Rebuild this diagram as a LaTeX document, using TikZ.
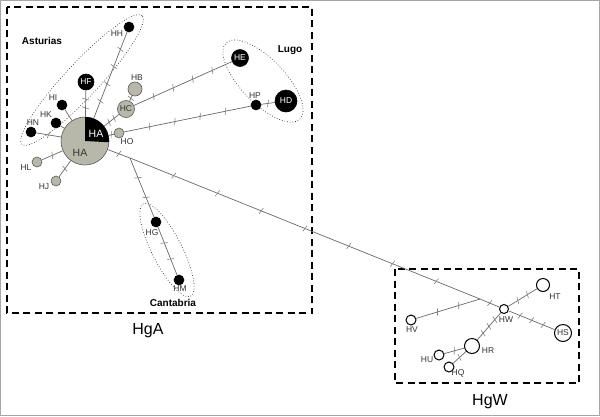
\documentclass[tikz,border=0pt]{standalone}
\usepackage{fontspec}
\setmainfont{Liberation Sans}
\usetikzlibrary{decorations.markings}
\definecolor{hgray}{RGB}{184,184,170}
\definecolor{lgray}{RGB}{105,105,105}
\tikzset{
 hap/.style={circle,inner sep=0pt,minimum size=#1,line width=0.6pt,font=\fontsize{8.5}{9}\selectfont},
 blk/.style={hap=#1,fill=black,draw=black,text=white},
 gry/.style={hap=#1,fill=hgray,draw=black!65,text=black!80},
 wht/.style={hap=#1,fill=white,draw=black,line width=1pt,text=black!80},
 lab/.style={font=\fontsize{8.5}{9}\selectfont,text=black!80,inner sep=0pt},
 grp/.style={font=\bfseries\fontsize{10}{11}\selectfont,inner sep=0pt},
 big/.style={font=\fontsize{16}{17}\selectfont,inner sep=0pt},
 edge/.style={draw=lgray,line width=0.7pt},
 tk/.style={edge,postaction={decorate,decoration={markings,
   mark=between positions {1/(#1+1)} and {#1/(#1+1)+0.001} step {1/(#1+1)} with
   {\draw[lgray!85,line width=0.6pt] (-1pt,-3.5pt) -- (1pt,3.5pt);}}}},
 boxd/.style={draw=black,line width=1.7pt,dash pattern=on 7pt off 4.5pt},
 ell/.style={draw=black!80,line width=0.7pt,dotted},
}
\begin{document}
\begin{tikzpicture}[x=1pt,y=-1pt]
\useasboundingbox (0,0) rectangle (600,416);
\draw[black!35,line width=0.6pt] (0.5,0.5) rectangle (599.5,415.5);
% boxes
\draw[boxd] (7,7) rectangle (312,313);
\draw[boxd] (395,269) rectangle (579,383);
\node[big] (tA) at (148,331) {HgA};
\node[big] (tW) at (490,402) {HgW};
% ellipses
\draw[ell] (82,80) ellipse[x radius=88pt,y radius=17pt,rotate=47];
\draw[ell] (263,81) ellipse[x radius=53pt,y radius=22pt,rotate=-46];
\draw[ell] (167,250) ellipse[x radius=52pt,y radius=15pt,rotate=-63];
\node[grp] (gA) at (42,41) {Asturias};
\node[grp] (gL) at (290,50) {Lugo};
\node[grp] (gC) at (173,303) {Cantabria};
% HgA nodes
\node[gry=48] (HA) at (85,141) {};
\fill[black] (HA.center) -- ++(-3:24pt) arc[start angle=-3,end angle=90,radius=24pt] -- cycle;
\node[font=\fontsize{10.5}{11}\selectfont,text=white,inner sep=0pt] (tHA1) at (96,134) {HA};
\node[font=\fontsize{10.5}{11}\selectfont,text=black!80,inner sep=0pt] (tHA2) at (80,153) {HA};
\node[blk=16] (HF) at (86,82) {HF};
\node[blk=10] (HH) at (129,27) {};
\node[blk=10] (HI) at (62,105) {};
\node[blk=10] (HK) at (56,123) {};
\node[blk=10] (HN) at (31,132) {};
\node[gry=14] (HB) at (135,89) {};
\node[gry=17] (HC) at (126,109) {HC};
\node[gry=10] (HO) at (119,133) {};
\node[gry=10] (HL) at (37,162) {};
\node[gry=10] (HJ) at (56,181) {};
\node[blk=17] (HE) at (240,58) {HE};
\node[blk=10] (HP) at (256,105) {};
\node[blk=22] (HD) at (286,101) {HD};
\node[blk=10] (HG) at (156,222) {};
\node[blk=10] (HM) at (179,280) {};
\coordinate (J1) at (130,158);
% HgW nodes
\node[wht=9] (HW) at (504,309) {};
\node[wht=13] (HT) at (543,285) {};
\node[wht=17] (HS) at (563,333) {HS};
\node[wht=10] (HV) at (411,320) {};
\node[wht=15] (HR) at (472,346) {};
\node[wht=10] (HU) at (439,355) {};
\node[wht=10] (HQ) at (449,367) {};
\coordinate (J2) at (480,299);
% labels
\node[lab] (lHH) at (117,34) {HH};
\node[lab] (lHB) at (137,78) {HB};
\node[lab] (lHP) at (255,96) {HP};
\node[lab] (lHI) at (53,98) {HI};
\node[lab] (lHK) at (46,115) {HK};
\node[lab] (lHN) at (33,123) {HN};
\node[lab] (lHL) at (26,168) {HL};
\node[lab] (lHJ) at (44,187) {HJ};
\node[lab] (lHO) at (127,142) {HO};
\node[lab] (lHG) at (152,233) {HG};
\node[lab] (lHM) at (180,289) {HM};
\node[lab] (lHT) at (555,297) {HT};
\node[lab] (lHW) at (506,320) {HW};
\node[lab] (lHV) at (412,330) {HV};
\node[lab] (lHR) at (488,351) {HR};
\node[lab] (lHU) at (427,360) {HU};
\node[lab] (lHQ) at (458,373) {HQ};
% edges
\draw[tk=4] (HA) -- (HH);
\draw[tk=2] (HA) -- (HF);
\draw[edge] (HA) -- (HI);
\draw[edge] (HA) -- (HK);
\draw[tk=1] (HA) -- (HN);
\draw[tk=1] (HA) -- (HL);
\draw[tk=1] (HA) -- (HJ);
\draw[tk=1] (HA) -- (HO);
\draw[tk=2] (HA) -- (HC);
\draw[tk=1] (HC) -- (HB);
\draw[tk=4] (HC) -- (HE);
\draw[tk=4] (HO) -- (HP);
\draw[tk=1] (HP) -- (HD);
\draw[tk=1] (HA) -- (J1);
\draw[tk=2] (J1) -- (HG);
\draw[tk=2] (HG) -- (HM);
\draw[tk=7] (J1) -- (J2);
\draw[tk=1] (J2) -- (HW);
\draw[tk=3] (HW) -- (HS);
\draw[tk=2] (HV) -- (J2);
\draw[tk=2] (HW) -- (HT);
\draw[tk=3] (HW) -- (HR);
\draw[tk=1] (HR) -- (HU);
\draw[tk=1] (HR) -- (HQ);
\end{tikzpicture}
\end{document}
